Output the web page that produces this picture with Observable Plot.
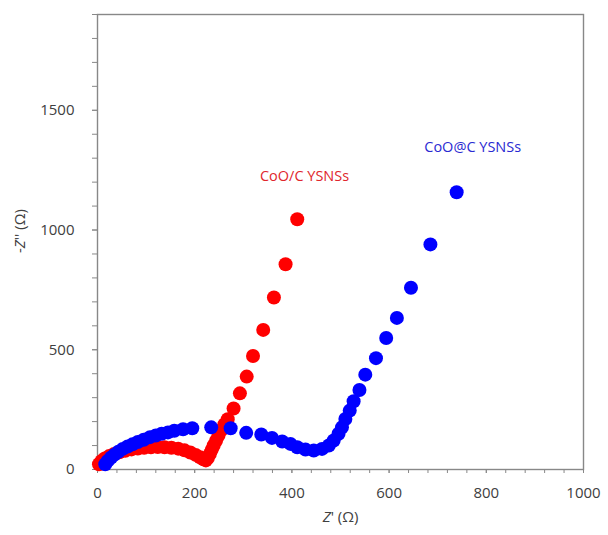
<!DOCTYPE html>
<html>
<head>
<meta charset="utf-8">
<script src="https://cdn.jsdelivr.net/npm/d3@7"></script>
<script src="https://cdn.jsdelivr.net/npm/@observablehq/plot@0.6"></script>
<style>
  html, body { margin: 0; padding: 0; background: #fff; }
  svg { display: block; }
</style>
</head>
<body>
<div id="chart"></div>
<script>
// CoO/C YSNSs (red) — Z' (Ω), -Z'' (Ω)
const redX = [3, 8, 15, 24, 34, 45, 57, 70, 83, 96, 110, 124, 138, 152, 166, 179, 191, 202, 211, 218, 223, 227, 231, 235, 239, 244, 249, 255, 261, 268, 280, 293, 307, 320, 341, 363, 387, 411];
const redY = [22, 35, 46, 56, 65, 72, 78, 84, 88, 91, 93, 94, 93, 91, 87, 80, 71, 61, 51, 43, 38, 48, 64, 82, 100, 120, 142, 165, 188, 210, 255, 318, 388, 474, 583, 718, 857, 1045];

// CoO@C YSNSs (blue)
const blueX = [16, 21, 28, 35, 43, 52, 62, 72, 83, 95, 108, 120, 132, 145, 158, 176, 195, 234, 274, 306, 337, 359, 380, 397, 411, 428, 445, 462, 476, 486, 496, 503, 510, 519, 527, 539, 551, 573, 594, 616, 645, 685, 739];
const blueY = [22, 36, 50, 62, 74, 86, 96, 105, 115, 124, 135, 142, 149, 155, 162, 168, 172, 176, 172, 153, 146, 132, 117, 107, 93, 83, 79, 86, 100, 121, 149, 176, 211, 246, 285, 332, 396, 465, 549, 633, 759, 940, 1158];

const seriesNames = ["CoO/C YSNSs", "CoO@C YSNSs"];
const seriesColors = ["#ff0000", "#0000ff"];
const labelColors = ["#e0262c", "#2a2ad2"];
const labelX = [426, 772];
const labelY = [1225, 1346];

const xMajor = [0, 200, 400, 600, 800, 1000];
const xMinor = d3.range(0, 1001, 40);
const yMajor = [0, 500, 1000, 1500];
const yMinor = d3.range(0, 1901, 100);

const xTitle = "Z' (Ω)";
const yTitle = "-Z'' (Ω)";

const red = redX.map((x, i) => ({x, y: redY[i]}));
const blue = blueX.map((x, i) => ({x, y: blueY[i]}));
const annotations = seriesNames.map((name, i) => ({name, x: labelX[i], y: labelY[i], color: labelColors[i]}));

const fmt = d3.format("d");

const plot = Plot.plot({
  width: 608,
  height: 535,
  marginLeft: 97,
  marginRight: 25,
  marginTop: 14,
  marginBottom: 66,
  style: {fontFamily: "'Open Sans', sans-serif", fontSize: "15px", background: "#fff"},
  x: {domain: [0, 1000]},
  y: {domain: [0, 1900]},
  marks: [
    Plot.axisX(xMinor, {tickSize: 4, stroke: "#888", fill: "none", label: null}),
    Plot.axisX(xMajor, {tickSize: 4, tickPadding: 14, tickFormat: fmt, stroke: "#888", fill: "#404040", label: null}),
    Plot.axisY(yMinor, {tickSize: 5, stroke: "#888", fill: "none", label: null}),
    Plot.axisY(yMajor, {tickSize: 5, tickPadding: 18, tickFormat: fmt, stroke: "#888", fill: "#404040", label: null}),
    Plot.frame({stroke: "#888", strokeWidth: 1.4}),
    Plot.dot(red, {x: "x", y: "y", r: 7, fill: seriesColors[0], stroke: "none"}),
    Plot.dot(blue, {x: "x", y: "y", r: 7, fill: seriesColors[1], stroke: "none"}),
    Plot.text(annotations, {x: "x", y: "y", text: "name", fill: "color", fontSize: 14.5}),
    Plot.text([xTitle], {frameAnchor: "bottom", dy: 52, fill: "#404040", fontSize: 15}),
    Plot.text([yTitle], {frameAnchor: "left", rotate: -90, dx: -77, dy: 11, fill: "#404040", fontSize: 15})
  ]
});

// Italicize the Z in the axis titles
d3.select(plot).selectAll("text").each(function() {
  const t = this.textContent;
  if (t === xTitle || t === yTitle) {
    const i = t.indexOf("Z");
    const sel = d3.select(this);
    sel.text(null);
    if (i > 0) sel.append("tspan").text(t.slice(0, i));
    sel.append("tspan").attr("font-style", "italic").text("Z");
    sel.append("tspan").text(t.slice(i + 1));
  }
});

document.getElementById("chart").appendChild(plot);
</script>
</body>
</html>
